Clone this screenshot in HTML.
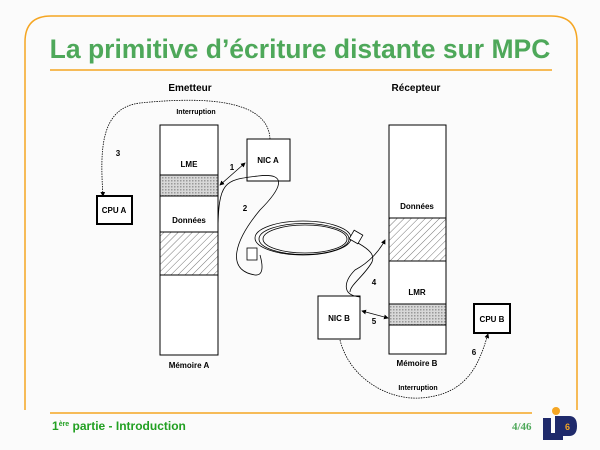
<!DOCTYPE html>
<html><head><meta charset="utf-8"><style>
html,body{margin:0;padding:0;background:#fbfbfb;}
svg{display:block;font-family:"Liberation Sans",sans-serif;}
</style></head><body>
<svg width="600" height="450" viewBox="0 0 600 450" xmlns="http://www.w3.org/2000/svg">
<defs>
<pattern id="hatch" width="5" height="5" patternUnits="userSpaceOnUse" patternTransform="rotate(45)">
<rect width="5" height="5" fill="#fff"/><line x1="0" y1="0" x2="0" y2="5" stroke="#777" stroke-width="1"/>
</pattern>
<pattern id="check" width="3" height="3" patternUnits="userSpaceOnUse">
<rect width="3" height="3" fill="#d8d8d8"/><rect width="1.5" height="1.5" fill="#999"/>
</pattern>
<marker id="ar" markerWidth="6" markerHeight="6" refX="5" refY="3" orient="auto"><path d="M0,0 L6,3 L0,6z" fill="#000"/></marker>
<marker id="as" markerWidth="6" markerHeight="6" refX="1" refY="3" orient="auto"><path d="M6,0 L0,3 L6,6z" fill="#000"/></marker>
</defs>
<path d="M25,410 L25,42 Q25,16 51,16 L551,16 Q577,16 577,42 L577,410" fill="none" stroke="#f5a623" stroke-width="1.5"/>
<text x="300" y="58" text-anchor="middle" font-size="26.5" font-weight="bold" fill="#4ea85a">La primitive d’écriture distante sur MPC</text>
<line x1="50" y1="70" x2="552" y2="70" stroke="#f5a623" stroke-width="1.5"/>
<line x1="50" y1="413" x2="532" y2="413" stroke="#f5a623" stroke-width="1.5"/>
<text x="52" y="430" font-size="12" font-weight="bold" fill="#22a022">1<tspan font-size="7" dy="-4">ère</tspan><tspan dy="4"> partie - Introduction</tspan></text>
<text x="512" y="430" font-size="11" font-weight="bold" fill="#4ea85a" font-family="Liberation Serif,serif">4/46</text>
<rect x="543" y="418" width="8" height="22" fill="#1f2a6b"/>
<rect x="543" y="433" width="16" height="7" fill="#1f2a6b"/>
<path d="M555,416 h14 q8,0 8,10 q0,10 -8,10 h-6 v4 h-8z" fill="#1f2a6b"/>
<circle cx="556" cy="411" r="4" fill="#f5a623"/>
<text x="565" y="430" font-size="9" font-weight="bold" fill="#f5a623">6</text>

<g font-size="8" font-weight="bold" fill="#000">
<text x="190" y="91" text-anchor="middle" font-size="10">Emetteur</text>
<text x="416" y="91" text-anchor="middle" font-size="10">Récepteur</text>
<text x="196" y="114" text-anchor="middle" font-size="7">Interruption</text>
<text x="418" y="390" text-anchor="middle" font-size="7">Interruption</text>
</g>

<rect x="160" y="125" width="58" height="230" fill="#fff" stroke="#000"/>
<rect x="160" y="175" width="58" height="21" fill="url(#check)" stroke="#000"/>
<rect x="160" y="232" width="58" height="43" fill="url(#hatch)" stroke="#000"/>
<rect x="389" y="125" width="57" height="229" fill="#fff" stroke="#000"/>
<rect x="389" y="218" width="57" height="43" fill="url(#hatch)" stroke="#000"/>
<rect x="389" y="304" width="57" height="21" fill="url(#check)" stroke="#000"/>
<rect x="247" y="139" width="43" height="42" fill="#fff" stroke="#000"/>
<rect x="318" y="296" width="42" height="43" fill="#fff" stroke="#000"/>
<rect x="97" y="196" width="35" height="28" fill="#fff" stroke="#000" stroke-width="2"/>
<rect x="474" y="304" width="36" height="29" fill="#fff" stroke="#000" stroke-width="2"/>

<g font-size="8" font-weight="bold" fill="#000" text-anchor="middle">
<text x="189" y="167">LME</text>
<text x="189" y="223">Données</text>
<text x="189" y="368">Mémoire A</text>
<text x="268" y="163">NIC A</text>
<text x="114" y="213">CPU A</text>
<text x="417" y="209">Données</text>
<text x="417" y="295">LMR</text>
<text x="417" y="366">Mémoire B</text>
<text x="339" y="321">NIC B</text>
<text x="492" y="322">CPU B</text>
<text x="118" y="156">3</text>
<text x="232" y="170">1</text>
<text x="245" y="211">2</text>
<text x="374" y="285">4</text>
<text x="374" y="324">5</text>
<text x="474" y="355">6</text>
</g>

<g fill="none" stroke="#000" stroke-width="0.8">
<path d="M270,139 C268,95 190,98 140,103 C100,108 100,150 103,196" stroke-dasharray="1.5,1" marker-end="url(#ar)"/>
<path d="M340,340 C350,380 390,400 420,398 C470,395 480,360 488,334" stroke-dasharray="1.5,1" marker-end="url(#ar)"/>
<line x1="220" y1="185" x2="245" y2="163" marker-start="url(#as)" marker-end="url(#ar)"/>
<line x1="362" y1="311" x2="388" y2="318" marker-start="url(#as)" marker-end="url(#ar)"/>
<path d="M218,233 C218,180 225,180 258,176 C290,172 280,190 260,210 C235,240 225,270 255,275 C265,276 262,262 260,255"/>
<path d="M360,297 C340,295 345,280 355,270 C370,262 380,250 385,240" marker-end="url(#ar)"/>
<path d="M358,243 C370,250 375,255 372,262 C365,275 350,285 350,292"/>
<ellipse cx="305" cy="239" rx="42" ry="14"/>
<ellipse cx="303" cy="238" rx="48" ry="17"/>
<ellipse cx="304" cy="239" rx="45" ry="15.5"/>
<rect x="247" y="248" width="10" height="12" fill="#fff"/>
<rect x="351" y="232" width="10" height="10" fill="#fff" transform="rotate(30 356 237)"/>
</g>
</svg>
</body></html>
